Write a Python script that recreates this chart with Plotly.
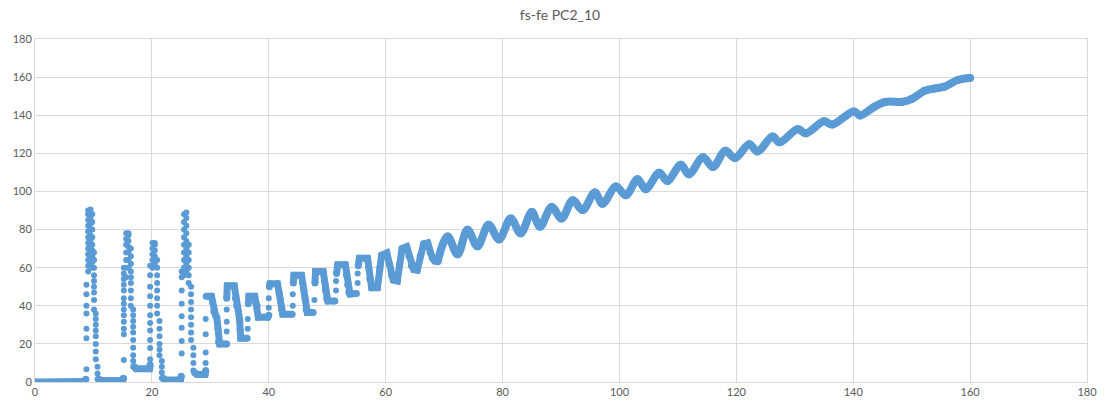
import plotly.graph_objects as go

# ---------------- data ----------------
# flat baselines and the staircase part (None = gap at a fast rising edge)
stair_x = [0, 8.5, 8.7, None,
           10.9, 11.3, 15.0, 15.1, None,
           17.0, 17.3, 19.6, 19.7, None,
           21.9, 22.3, 24.9, 25.0, None,
           27.3, 27.7, 29.1, 29.2, None,
           29.3, 30.2, 30.4, 30.6, 30.9, 31.1, 31.3, 31.4, 31.6, 32.8, None,
           32.8, 32.9, 34.1, 34.3, 34.5, 34.8, 35.0, 35.1, 35.2, 36.3, None,
           36.5, 36.6, 37.6, 37.8, 38.0, 38.2, 39.8, 40.0, None,
           40.1, 40.2, 41.5, 41.8, 42.0, 42.2, 42.4, 44.0, None,
           44.2, 44.3, 45.6, 45.8, 46.0, 46.2, 46.4, 46.6, 47.6, None,
           47.9, 48.0, 49.3, 49.5, 49.7, 49.9, 50.1, 51.3, None,
           51.6, 51.8, 53.1, 53.3, 53.5, 53.7, 53.9, 55.0, None,
           55.3, 55.5, 56.9, 57.1, 57.3, 57.6, 58.6,
           59.0, 59.3, 60.2, 60.6, 61.0, 61.3, 62.0,
           62.4, 62.8, 63.6, 64.0, 64.4, 64.8, 65.4,
           65.9, 66.5, 67.2, 67.6, 68.0, 68.4, 68.9]
stair_y = [0, 0.3, 1.5, None,
           1.5, 0.8, 0.8, 2, None,
           8, 7, 7, 9, None,
           2, 1, 1, 3, None,
           5, 4, 4, 6, None,
           45, 45, 42, 37, 35, 34, 28, 21, 20, 20, None,
           44, 50.5, 50.5, 44, 40, 37, 33, 27, 23, 23, None,
           41, 45, 45, 42, 40, 34, 34, 35, None,
           50, 51.5, 51.5, 46.4, 43, 38, 35.5, 35.5, None,
           52, 56, 56, 52, 48, 44, 38, 36.5, 36.5, None,
           52, 58, 58, 53, 48, 44, 42.5, 42.5, None,
           57, 61.5, 61.5, 56, 51, 47, 46.2, 46.5, None,
           61, 65, 65, 60, 54, 49.5, 49.5,
           60, 66.5, 67.7, 62, 56, 53.5, 53,
           62, 70, 71, 66, 61, 59, 58.7,
           66, 72.5, 73, 68, 65, 63.5, 63.4]

# columns of separate dots (spikes and fast rising edges)
dot_col_x = [8.8, 9.1, 9.5, 9.8, 10.1, 10.4, 10.7,
             15.2, 15.6, 16.0, 16.4, 16.8,
             19.7, 20.1, 20.5, 20.9, 21.3, 21.7,
             25.1, 25.5, 25.9, 26.3, 26.7, 27.1,
             29.2, 32.8, 36.4, 40.0, 44.1, 47.8, 51.5, 55.2]
dot_col_y = [
    [6.7, 23, 28, 36, 40, 46, 51],
    [58, 61, 64, 67, 70, 73, 76, 79, 82, 85, 88, 90],
    [62, 65, 68, 71, 74, 77, 80, 83, 86, 89, 90.5],
    [60, 63, 66, 69, 72, 76, 80, 84, 88],
    [38, 43, 47, 50, 53, 56, 60, 64, 68],
    [12, 16, 20, 24, 27, 30, 33, 36],
    [1.5, 4.5, 8],
    [2, 11.5, 25, 28, 31.6, 35, 38, 41, 44, 48, 51, 54, 57, 60],
    [55, 60, 64, 68, 72, 75, 78],
    [60, 64, 68, 71, 74, 77, 78],
    [40, 44, 48, 52, 55, 58, 62, 66, 70],
    [8, 11, 14, 18, 22, 26, 29, 32, 35, 38],
    [7, 12, 17.9, 22, 27, 31, 35, 40, 45, 50, 56, 61],
    [60, 64, 67, 70, 73],
    [62, 66, 69, 72, 73],
    [36, 40, 44, 48, 52, 56, 60, 64],
    [14, 17, 20, 24, 28, 32],
    [2, 5, 8, 11],
    [3, 15, 21.5, 28.5, 34.5, 41, 48, 55, 58],
    [56, 60, 64, 68, 72, 76, 80, 84, 88],
    [58, 62, 66, 70, 74, 78, 82, 86, 89],
    [52, 56, 60, 64, 68, 72],
    [22, 26, 30, 34, 38, 42, 46, 50],
    [6, 10, 14, 18],
    [10, 15.5, 25, 33],
    [26.5, 31.6, 38],
    [28, 33],
    [39, 44],
    [40, 46],
    [43],
    [48, 53],
    [52, 57],
]

# wavy part: troughs and peaks
wave_x = [68.9, 70.6, 72.3, 74.0,
          75.7, 77.6, 79.4, 81.4, 83.1, 85.0, 86.4, 88.4, 90.1, 92.0,
          93.7, 95.8, 97.1, 99.4, 101.1, 103.1, 104.5, 106.8, 108.2, 110.5,
          111.9, 114.3, 116.0, 118.1, 119.8, 122.2, 123.6, 126.2, 127.4, 130.5,
          131.9, 135.0, 136.4, 140.1, 141.2, 143.5, 145.5, 148.3, 150.0, 152.2,
          153.9, 155.6, 157.9, 160.0]
wave_y = [63.4, 76.3, 67, 79.9,
          71.2, 82.5, 74.8, 85.8, 78, 89.2, 81.5, 91.8, 85.8, 95.4,
          90.2, 99.5, 93.5, 102.6, 98, 106.4, 101.2, 109.8, 105.5, 114,
          109, 117.9, 112.8, 121.3, 117.6, 124.8, 121, 128.8, 125.8, 132.7,
          130.5, 136.8, 135.1, 142, 139.9, 144.2, 147, 147, 148.5, 152.8,
          154, 155, 158.5, 159.5]

x_ticks = [0, 20, 40, 60, 80, 100, 120, 140, 160, 180]
y_ticks = [0, 20, 40, 60, 80, 100, 120, 140, 160, 180]
title_text = "fs-fe PC2_10"

# ---------------- figure ----------------
BLUE = "#5B9BD5"
GRID = "#D9D9D9"
TXT = "#595959"

dots_x, dots_y = [], []
for cx, ys in zip(dot_col_x, dot_col_y):
    for v in ys:
        dots_x.append(cx)
        dots_y.append(v)

fig = go.Figure()
fig.add_trace(go.Scatter(x=stair_x, y=stair_y, mode="lines+markers",
                         line=dict(color=BLUE, width=7),
                         marker=dict(color=BLUE, size=7),
                         connectgaps=False, hoverinfo="skip"))
fig.add_trace(go.Scatter(x=dots_x, y=dots_y, mode="markers",
                         marker=dict(color=BLUE, size=6), hoverinfo="skip"))
fig.add_trace(go.Scatter(x=wave_x, y=wave_y, mode="lines+markers",
                         line=dict(color=BLUE, width=8, shape="spline", smoothing=1),
                         marker=dict(color=BLUE, size=8), hoverinfo="skip"))

axis_common = dict(showgrid=True, gridcolor=GRID, gridwidth=1, zeroline=False,
                   showline=True, linecolor=GRID, linewidth=1, mirror=True,
                   ticks="", tickfont=dict(family="Lato, Open Sans, sans-serif", size=11, color=TXT))

fig.update_xaxes(range=[0, 180], tickvals=x_ticks, **axis_common)
fig.update_yaxes(range=[0, 180], tickvals=y_ticks, **axis_common)

fig.update_layout(
    width=1108, height=409,
    margin=dict(l=35, r=11, t=39, b=21),
    paper_bgcolor="white", plot_bgcolor="white",
    showlegend=False,
    title=dict(text=title_text, x=560 / 1108, xanchor="center", y=1 - 15 / 409, yanchor="middle",
               xref="container", yref="container",
               font=dict(family="Lato, Open Sans, sans-serif", size=14, color=TXT)),
)

fig.write_html("out.html", config={"displayModeBar": False})
